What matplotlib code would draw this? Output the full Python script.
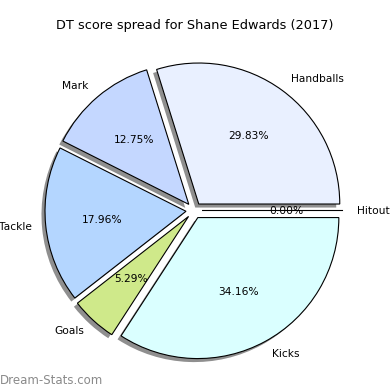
import matplotlib
matplotlib.use("Agg")
import matplotlib.pyplot as plt

categories = ["Hitout", "Handballs", "Mark", "Tackle", "Goals", "Kicks"]
values = [0.0, 29.83, 12.75, 17.96, 5.29, 34.16]
colors = ["#f0f0ff", "#e9f0ff", "#c4d7ff", "#b4d6ff", "#cfe98a", "#daffff"]
explode = [0.057] * len(values)

R_PX = 141.0
CX, CY = 194.0, 210.5  # pixel centre (from top-left)
fig = plt.figure(figsize=(3.9, 3.9), dpi=100)
ax = fig.add_axes([(CX - 175) / 390, (390 - CY - 175) / 390, 350 / 390, 350 / 390])
ax.pie(values, labels=categories, colors=colors, explode=explode,
       autopct="%.2f%%", startangle=0, counterclock=True,
       shadow={"ox": -0.018, "oy": -0.018, "facecolor": "#8f8f8f",
               "edgecolor": "none", "alpha": 1.0},
       wedgeprops={"edgecolor": "black", "linewidth": 0.8},
       textprops={"fontsize": 7.7})
L = 175 / R_PX
ax.set_xlim(-L, L)
ax.set_ylim(-L, L)
ax.set_aspect("equal")
ax.axis("off")

fig.text(195 / 390, 1 - 25 / 390, "DT score spread for Shane Edwards (2017)",
         ha="center", va="center", fontsize=9.25)
fig.text(0 / 390, 1 - 380 / 390, "Dream-Stats.com", ha="left", va="center",
         fontsize=8.5, color="#8a8a8a")

fig.savefig("out.png", dpi=100)
